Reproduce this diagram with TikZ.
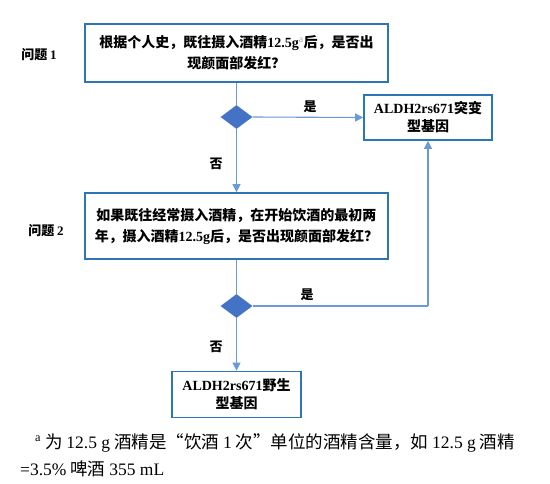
\documentclass[tikz,border=0pt]{standalone}
\usepackage{fontspec}
\setmainfont{Noto Sans CJK SC}
\newfontfamily\lat{Liberation Serif}
\usetikzlibrary{arrows.meta,shapes.geometric}
\definecolor{boxblue}{HTML}{2E75B6}
\definecolor{lineblue}{HTML}{6A9BD8}
\definecolor{diafill}{HTML}{4472C4}
\tikzset{
  qbox/.style={draw=boxblue,line width=1.6pt,minimum width=303pt,align=center,inner sep=0pt,font=\fontsize{14}{21}\selectfont\bfseries},
  gbox/.style={draw=boxblue,line width=1.6pt,minimum width=129pt,align=center,inner sep=0pt,font=\fontsize{14}{18}\selectfont\bfseries},
  dia/.style={diamond,fill=diafill,draw=none,minimum width=32pt,minimum height=24pt,inner sep=0pt,aspect=1.33},
  conn/.style={draw=lineblue,line width=1.1pt},
  arr/.style={conn,-{Triangle[length=8pt,width=8pt]}},
  lab/.style={text=black,font=\fontsize{13}{15}\selectfont\bfseries},
  qlab/.style={text=black,font=\fontsize{13}{15}\selectfont\bfseries},
}
\begin{document}
\begin{tikzpicture}[x=1pt,y=-1pt]
\useasboundingbox (0,0) rectangle (550,483);
\fill[white] (0,0) rectangle (550,483);
\node[qbox,minimum height=58pt] (q1) at (236.5,53) {根据个人史，既往摄入酒精{\lat 12.5g}{\lat\color{gray!70}\textsuperscript{\mdseries a}}后，是否出\\现颜面部发红？};
\node[qbox,minimum height=66pt] (q2) at (236.5,226) {如果既往经常摄入酒精，在开始饮酒的最初两\\年，摄入酒精{\lat 12.5g}后，是否出现颜面部发红？};
\node[gbox,minimum width=128pt,minimum height=45pt] (mut) at (428,117.5) {{\lat ALDH2rs671}突变\\型基因};
\node[gbox,minimum height=46pt] (wild) at (236.5,394.5) {{\lat ALDH2rs671}野生\\型基因};
\node[dia] (d1) at (236.5,117) {};
\node[dia] (d2) at (236.5,306) {};
\coordinate (c1) at (428,306);
\node[qlab] (l1) at (39,55) {问题 {\lat 1}};
\node[qlab] (l2) at (46,231) {问题 {\lat 2}};
\draw[conn] (q1.south) -- (d1.north);
\draw[arr] (d1.east) -- node[lab,above=1pt,pos=0.52] (y1) {是} (mut.west);
\draw[arr] (d1.south) -- node[lab,pos=0.55,left=10pt] (n1) {否} (q2.north);
\draw[conn] (q2.south) -- (d2.north);
\draw[conn] (d2.east) -- node[lab,above=1pt,pos=0.31] (y2) {是} (c1);
\draw[arr] (c1) -- (mut.south);
\draw[arr] (d2.south) -- node[lab,pos=0.55,left=10pt] (n2) {否} (wild.north);
\node[anchor=north west,font=\fontsize{17.5}{27}\selectfont,align=left,inner sep=0pt] (fn) at (20,433) {\hspace{15pt}{\lat\textsuperscript{a}} 为 {\lat 12.5 g} 酒精是“饮酒 {\lat 1} 次”单位的酒精含量，如 {\lat 12.5 g} 酒精\\{\lat =3.5\%} 啤酒 {\lat 355 mL}};
\end{tikzpicture}
\end{document}
